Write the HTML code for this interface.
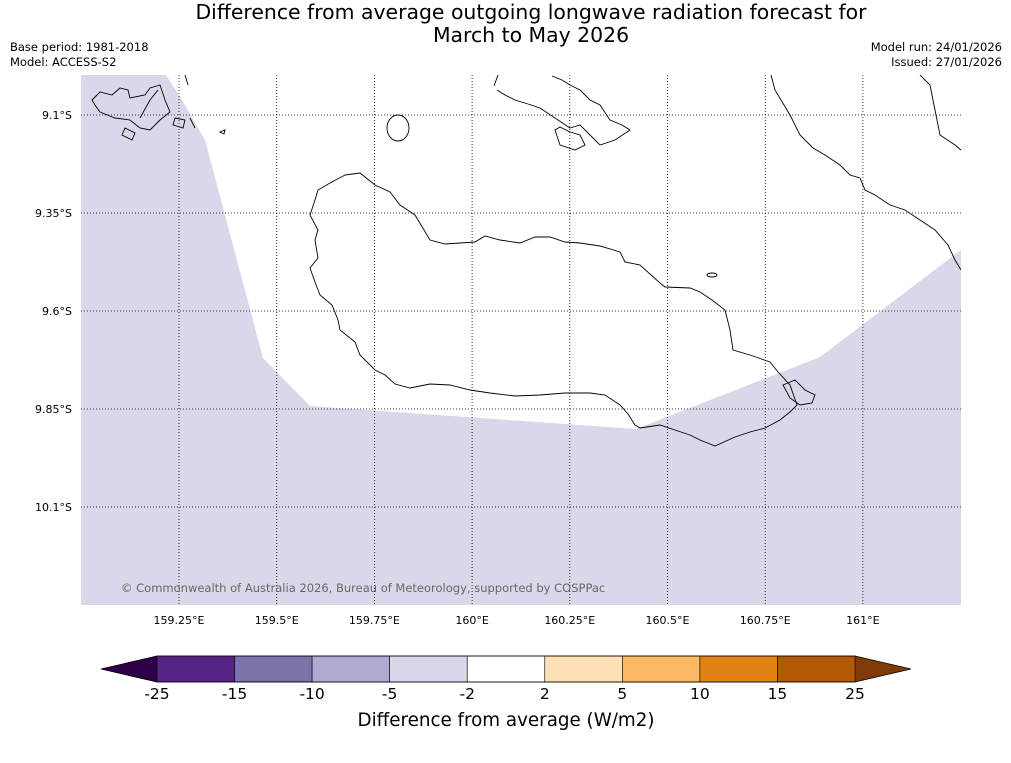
<!DOCTYPE html>
<html><head><meta charset="utf-8">
<style>
body{margin:0;background:#fff;font-family:"Liberation Sans","DejaVu Sans",sans-serif;}
svg text{font-family:"DejaVu Sans","Liberation Sans",sans-serif;}
</style></head>
<body>
<svg id="chart" width="1011" height="758" viewBox="0 0 1011 758" xmlns="http://www.w3.org/2000/svg">
<rect width="1011" height="758" fill="#fff"/>
<text x="531" y="19" font-size="20.4" text-anchor="middle">Difference from average outgoing longwave radiation forecast for</text>
<text x="531" y="42" font-size="20.4" text-anchor="middle">March to May 2026</text>
<text x="10" y="51" font-size="11.5">Base period: 1981-2018</text>
<text x="10" y="66" font-size="11.5">Model: ACCESS-S2</text>
<text x="1002" y="51" font-size="11.5" text-anchor="end">Model run: 24/01/2026</text>
<text x="1002" y="66" font-size="11.5" text-anchor="end">Issued: 27/01/2026</text>
<g id="map">
 <clipPath id="mc"><rect x="81" y="75" width="880" height="530"/></clipPath>
 <g clip-path="url(#mc)">
  <polygon fill="#d8d8ea" points="81,75 166,75 182,100 205,140 263,358 310,406 636,429 820,357 961,250 961,605 81,605"/>
  <g fill="none" stroke="#000" stroke-width="0.9">
   <path d="M345,175 L360,173 375,185 390,192 400,205 415,215 430,240 445,244 460,243 475,242 485,236 500,240 520,243 535,237 550,237 565,242 580,243 600,246 620,252 625,262 640,265 660,283 665,287 690,288 700,292 712,300 725,310 730,330 733,350 750,355 770,362 778,372 790,385 797,405 790,412 780,420 765,428 750,432 735,437 715,446 700,440 690,435 675,430 660,425 640,428 635,425 628,414 620,405 605,395 590,393 565,393 540,395 515,396 490,393 470,390 450,385 430,384 410,388 395,384 385,375 375,370 360,355 355,342 340,330 338,320 332,305 320,295 315,282 310,268 318,258 315,240 318,230 310,215 315,200 318,190 330,183 Z"/>
   <path d="M497,90 L505,95 515,100 528,104 540,108 555,118 570,128 580,125 590,135 600,145 615,140 630,130 622,125 610,120 600,105 590,100 580,90 570,85 562,80 552,76 M498,75 L494,86 M555,130 L560,145 575,150 585,145 580,135 570,132 560,127 Z"/>
   <path d="M771,75 L775,90 790,115 800,135 813,148 825,155 840,165 850,175 860,178 865,190 875,195 890,205 905,210 920,220 935,230 948,245 955,260 961,270 M920,75 L930,85 935,110 940,135 955,145 961,150"/>
   <ellipse cx="398" cy="128" rx="11" ry="13"/>
   <ellipse cx="712" cy="275" rx="5" ry="2"/>
   <path d="M92,100 L100,92 112,95 120,88 128,90 130,98 145,95 150,88 160,85 165,100 170,112 160,120 150,130 140,128 130,120 115,118 100,112 95,105 Z M125,128 L135,133 132,140 122,135 Z M140,118 L150,100 158,90 M175,118 L185,120 183,128 173,125 Z M190,118 L195,128 M220,132 L225,130 224,134 Z M185,75 L188,85"/>
   <path d="M783,385 L795,380 805,390 815,395 812,403 800,405 790,398 Z"/>
  </g>
  <g id="grid"></g>
 </g>
 <text x="121" y="592" font-size="11.5" fill="#666">© Commonwealth of Australia 2026, Bureau of Meteorology, supported by COSPPac</text>
 <g id="axislabels"></g>
</g>
<g id="cbar"></g>
<text x="506" y="726" font-size="18.3" text-anchor="middle">Difference from average (W/m2)</text>
</svg>
<script>
const lonTicks=[159.25,159.5,159.75,160,160.25,160.5,160.75,161];
const lonLabels=["159.25°E","159.5°E","159.75°E","160°E","160.25°E","160.5°E","160.75°E","161°E"];
const latTicks=[9.1,9.35,9.6,9.85,10.1];
const latLabels=["9.1°S","9.35°S","9.6°S","9.85°S","10.1°S"];
const cbarBounds=["-25","-15","-10","-5","-2","2","5","10","15","25"];
const cbarColors=["#562486","#7f72ab","#b0aad2","#d8d8ea","#ffffff","#fee0b6","#fdb863","#e08214","#b35806"];
const extMin="#2d004b", extMax="#7f3b08";
const NS="http://www.w3.org/2000/svg";
const xLon=v=>179+(v-159.25)/0.25*97.7;
const yLat=v=>115+(v-9.1)/0.25*98;
function mk(t,a,p){const e=document.createElementNS(NS,t);for(const k in a)e.setAttribute(k,a[k]);p.appendChild(e);return e;}
const grid=document.getElementById('grid'), al=document.getElementById('axislabels');
lonTicks.forEach((v,i)=>{const x=xLon(v);
 const l=mk('line',{x1:x,x2:x,y1:75,y2:605,stroke:'#000','stroke-width':0.8,'stroke-dasharray':'1,2'},grid);
 
 
 const t=mk('text',{x:x,y:624,'font-size':11,'text-anchor':'middle'},al);t.textContent=lonLabels[i];
 
 });
latTicks.forEach((v,i)=>{const y=yLat(v);
 const l=mk('line',{x1:81,x2:961,y1:y,y2:y,stroke:'#000','stroke-width':0.8,'stroke-dasharray':'1,2'},grid);
 
 
 const t=mk('text',{x:72,y:y+4,'font-size':11,'text-anchor':'end'},al);t.textContent=latLabels[i];
 
 });
const cb=document.getElementById('cbar');
const cx0=157,cx1=855,cy0=656,cy1=682,n=cbarColors.length,w=(cx1-cx0)/n;
const tl=mk('polygon',{points:`${cx0},${cy0} ${cx0},${cy1} 101,${(cy0+cy1)/2}`,fill:extMin},cb);


const tr=mk('polygon',{points:`${cx1},${cy0} ${cx1},${cy1} 911,${(cy0+cy1)/2}`,fill:extMax},cb);


cbarColors.forEach((c,i)=>{const r=mk('rect',{x:cx0+i*w,y:cy0,width:w,height:cy1-cy0,fill:c,stroke:'#000','stroke-width':0.6},cb);
 
 });
mk('polygon',{points:`101,${(cy0+cy1)/2} ${cx0},${cy0} ${cx1},${cy0} 911,${(cy0+cy1)/2} ${cx1},${cy1} ${cx0},${cy1}`,fill:'none',stroke:'#000','stroke-width':0.8},cb);
cbarBounds.forEach((b,i)=>{const t=mk('text',{x:cx0+i*w,y:699,'font-size':15.5,'text-anchor':'middle'},cb);t.textContent=b;
 
 });
</script>
</body></html>
